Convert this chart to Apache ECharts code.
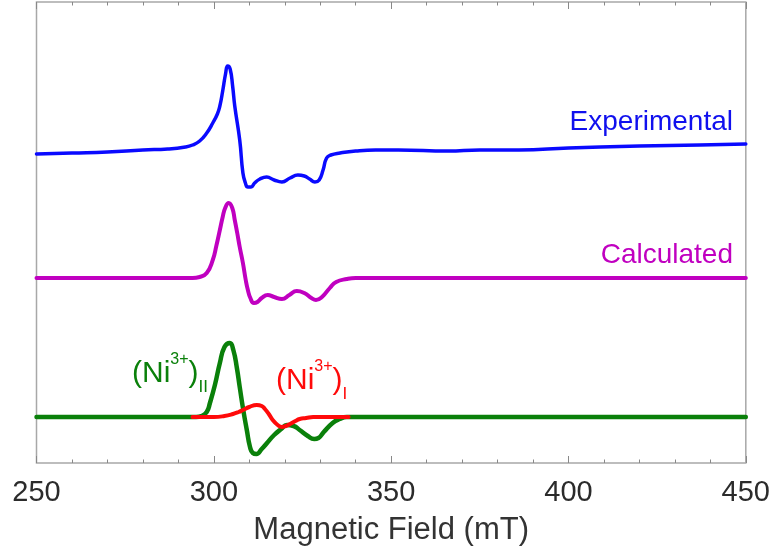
<!DOCTYPE html>
<html>
<head>
<meta charset="utf-8">
<script src="https://cdn.jsdelivr.net/npm/echarts@6/dist/echarts.min.js"></script>
<style>
  html, body { margin: 0; padding: 0; background: #fff; }
  #chart { width: 773px; height: 556px; }
</style>
</head>
<body>
<div id="chart"></div>
<script>
// field values (mT) and signal heights (arbitrary units, stacked with offsets)
var xTicks = [250, 300, 350, 400, 450]

var expField = [250, 260, 270, 280, 287, 292, 294, 296, 298, 299.7, 301, 301.7, 302.5, 303.3, 303.9, 304.6, 305.3, 305.9, 307.3, 308.2, 308.9, 309.6, 310.5, 311.5, 313, 314.9, 317, 319.2, 321.5, 323.7, 325.5, 327, 328.5, 329.7, 330.8, 331.8, 333, 335.6, 340, 345.6, 352, 366, 375, 386, 400, 409, 420, 437, 450]
var expSignal = [309, 310, 311, 313, 314, 316, 318, 322, 330, 340, 349, 357, 372, 389, 397, 394, 377, 357, 323, 290, 280, 276, 276, 280, 284, 286, 283, 281, 285, 288, 287, 284, 281, 283, 293, 305, 308, 310, 312, 313, 313, 312, 313, 313, 315, 316, 317, 318, 319]

var calcField = [250, 294, 296, 298, 299.7, 300.7, 301.7, 302.5, 303.2, 304.2, 305.2, 305.9, 306.6, 307.3, 308.2, 309, 309.6, 310.3, 311.3, 312.3, 313.5, 315.2, 317, 319.2, 321.3, 323.4, 325.5, 327.5, 328.8, 330.5, 332.7, 334.5, 337.5, 340, 450]
var calcSignal = [185, 185, 186, 190, 203, 217, 233, 246, 255, 260, 255, 243, 230, 216, 200, 183, 173, 165, 160, 161, 165, 168, 166, 164, 168, 172, 170, 165, 163, 166, 175, 181, 184, 185, 185]

var ni2Field = [250, 295, 296.5, 298, 298.9, 300.3, 301.7, 303, 304.5, 305.5, 306.5, 307.3, 308.3, 309.3, 310.2, 311, 312, 313.5, 315, 317, 319, 320.6, 322.5, 324.2, 326.5, 328.3, 329.5, 331, 333.5, 335.5, 337.5, 450]
var ni2Signal = [46, 46, 47, 51, 60, 78, 100, 116, 120, 113, 95, 76, 53, 33, 16, 10, 9, 14, 20, 28, 34, 38, 37, 33, 27, 24, 25, 31, 40, 44, 46, 46]

var ni1Field = [294, 300, 303, 305.4, 307, 308.2, 310, 312.1, 313.5, 314.4, 315.5, 316.6, 318, 319.2, 320.3, 321.5, 323, 324.2, 326, 328, 338]
var ni1Signal = [46, 46, 47, 49, 51, 53, 56, 58, 57, 54, 49, 43, 38, 36, 37, 39, 42, 44, 45, 46, 46]

function pairs(xs, ys) {
  return xs.map(function (x, i) { return [x, ys[i]] })
}

var chart = echarts.init(document.getElementById('chart'))

function lineSeries(name, data, color, width) {
  return {
    name: name,
    type: 'line',
    data: data,
    showSymbol: false,
    symbol: 'none',
    smooth: 0.5,
    lineStyle: { color: color, width: width, join: 'round', cap: 'round' },
    silent: true
  }
}

function niLabel(text, color, left, top) {
  return {
    type: 'text',
    left: left,
    top: top,
    style: {
      text: text,
      fill: color,
      rich: {
        a: { fontFamily: 'Liberation Sans', fontSize: 30, lineHeight: 42, fill: color },
        sup: { fontFamily: 'Liberation Sans', fontSize: 16, lineHeight: 44, verticalAlign: 'top', fill: color },
        sub: { fontFamily: 'Liberation Sans', fontSize: 17, lineHeight: 40, verticalAlign: 'bottom', fill: color }
      }
    }
  }
}

chart.setOption({
  animation: false,
  grid: {
    left: 36.5,
    right: 27,
    top: 2,
    bottom: 93,
    show: true,
    borderColor: '#a8a8a8',
    borderWidth: 1.5
  },
  xAxis: [{
    type: 'value',
    min: 250,
    max: 450,
    interval: 50,
    name: 'Magnetic Field (mT)',
    nameLocation: 'middle',
    nameGap: 52,
    nameTextStyle: { fontFamily: 'Liberation Sans', fontSize: 31, color: '#333' },
    axisLine: { show: false },
    axisTick: { inside: true, length: 7, lineStyle: { color: '#888' } },
    minorTick: { show: true, splitNumber: 5, length: 3.5, lineStyle: { color: '#888' } },
    splitLine: { show: false },
    axisLabel: {
      fontFamily: 'Liberation Sans',
      fontSize: 29,
      color: '#2b2b2b',
      margin: 15
    }
  }, {
    type: 'value',
    position: 'top',
    min: 250,
    max: 450,
    interval: 50,
    axisLine: { show: false },
    axisTick: { inside: true, length: 7, lineStyle: { color: '#888' } },
    minorTick: { show: true, splitNumber: 5, length: 3.5, lineStyle: { color: '#888' } },
    splitLine: { show: false },
    axisLabel: { show: false }
  }],
  yAxis: {
    type: 'value',
    min: 0,
    max: 461,
    show: false
  },
  series: [
    lineSeries('Experimental', pairs(expField, expSignal), '#0a0aff', 3.5),
    lineSeries('Calculated', pairs(calcField, calcSignal), '#c000c0', 4),
    lineSeries('(Ni3+)II', pairs(ni2Field, ni2Signal), '#0a800a', 4.5),
    lineSeries('(Ni3+)I', pairs(ni1Field, ni1Signal), '#ff0a0a', 4)
  ],
  graphic: [{
    type: 'text',
    right: 40,
    top: 108,
    style: {
      text: 'Experimental',
      font: '28px "Liberation Sans"',
      fill: '#1010ee'
    }
  }, {
    type: 'text',
    right: 40,
    top: 241,
    style: {
      text: 'Calculated',
      font: '28px "Liberation Sans"',
      fill: '#c000c0'
    }
  },
  niLabel('{a|(Ni}{sup|3+}{a|)}{sub|II}', '#0a800a', 132, 352),
  niLabel('{a|(Ni}{sup|3+}{a|)}{sub|I}', '#ff0a0a', 276, 359)
  ]
})
</script>
</body>
</html>
